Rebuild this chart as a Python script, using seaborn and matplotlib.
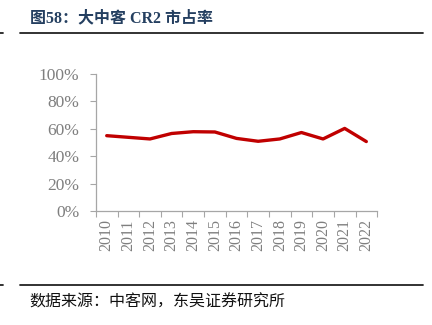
import matplotlib
matplotlib.use("Agg")
import matplotlib.pyplot as plt
import seaborn as sns
import pandas as pd
from matplotlib.lines import Line2D
from matplotlib.ticker import FuncFormatter, MultipleLocator

years = ["2010", "2011", "2012", "2013", "2014", "2015", "2016",
         "2017", "2018", "2019", "2020", "2021", "2022"]
cr2 = [55.0, 53.8, 52.6, 56.6, 57.9, 57.7, 53.0, 50.9, 52.6, 57.3, 52.6, 60.3, 50.7]
title = "图58：大中客 CR2 市占率"
source = "数据来源：中客网，东吴证券研究所"

sns.set_theme(style="white")
plt.rcParams['font.family'] = ['Liberation Serif', 'Noto Sans CJK SC']

df = pd.DataFrame({"year": years, "cr2": cr2})

fig = plt.figure(figsize=(4.32, 3.25), dpi=100)
ax = fig.add_axes([0.222, 0.351, 0.651, 0.421])
sns.lineplot(data=df, x="year", y="cr2", ax=ax, color="#C00000", linewidth=2.4, sort=False)

ax.set_xlim(-0.5, len(years) - 0.5)
ax.set_ylim(0, 100)
ax.yaxis.set_major_locator(MultipleLocator(20))
ax.yaxis.set_major_formatter(FuncFormatter(lambda v, p: f"{int(v)}%"))
ax.set_xlabel("")
ax.set_ylabel("")

ax.set_xticks(range(len(years)))
ax.set_xticklabels(years, rotation=90)
ax.set_xticks([i - 0.5 for i in range(len(years) + 1)], minor=True)
ax.tick_params(axis="x", which="major", length=0, pad=6, labelsize=11.5, labelcolor="#7F7F7F")
ax.tick_params(axis="x", which="minor", length=4, width=0.8, color="#A6A6A6", direction="out", bottom=True)
ax.tick_params(axis="y", length=4, width=0.8, color="#A6A6A6", direction="out", left=True,
               labelsize=12.5, labelcolor="#7F7F7F", pad=8)

for s in ["top", "right"]:
    ax.spines[s].set_visible(False)
for s in ["left", "bottom"]:
    ax.spines[s].set_color("#A6A6A6")
    ax.spines[s].set_linewidth(0.9)
ax.grid(False)

fig.text(0.069, 0.945, title, fontsize=11.5, fontweight="bold", color="#243F60",
         ha="left", va="center")
fig.text(0.069, 0.072, source, fontsize=11.5, color="#111111", ha="left", va="center",
         family=['Noto Sans CJK SC', 'DejaVu Sans'])

fig.add_artist(Line2D([0.047, 0.979], [0.898, 0.898], transform=fig.transFigure,
                      color="#222222", linewidth=1.3))
fig.add_artist(Line2D([0.047, 0.979], [0.123, 0.123], transform=fig.transFigure,
                      color="#222222", linewidth=1.3))
fig.add_artist(Line2D([0.0, 0.007], [0.898, 0.898], transform=fig.transFigure,
                      color="#222222", linewidth=1.3))
fig.add_artist(Line2D([0.0, 0.007], [0.123, 0.123], transform=fig.transFigure,
                      color="#222222", linewidth=1.3))

fig.savefig("out.png", dpi=100)
